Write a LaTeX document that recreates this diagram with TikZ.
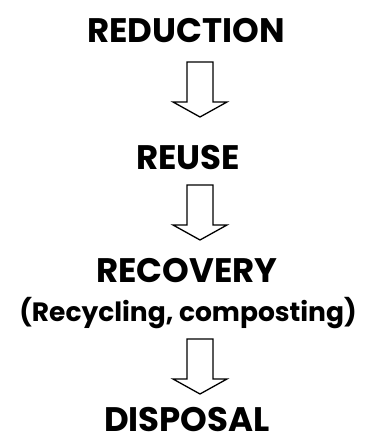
\documentclass[tikz,border=0pt]{standalone}
\usepackage{fontspec}
\setmainfont{Poppins}
\usepackage{tikz}

\begin{document}
\begin{tikzpicture}[x=1pt, y=1pt,
    stage/.style={anchor=base, inner sep=0pt, font=\fontsize{34}{40}\selectfont\bfseries},
    note/.style={anchor=base, inner sep=0pt, font=\fontsize{26.5}{32}\selectfont\bfseries},
    pics/downarrow/.style={code={
      \draw[line width=1.3pt, line join=miter, fill=white]
        (-13,0) -- (-13,-40) -- (-27,-40) -- (0,-55) -- (27,-40) -- (13,-40) -- (13,0) -- cycle;}}
  ]
  \useasboundingbox (0,0) rectangle (365,443);

  % stages of the hierarchy
  \node[stage] (reduction) at (186,400) {REDUCTION};
  \node[stage] (reuse) at (188,273) {REUSE};
  \node[stage] (recovery) at (187,160) {RECOVERY};
  \node[note] (recycling) at (188,121) {(Recycling, composting)};
  \node[stage] (disposal) at (187,11) {DISPOSAL};

  % block arrows between them
  \coordinate (step1) at (200,381);
  \coordinate (step2) at (200,258);
  \coordinate (step3) at (200,104);
  \pic at (step1) {downarrow};
  \pic at (step2) {downarrow};
  \pic at (step3) {downarrow};
\end{tikzpicture}
\end{document}
